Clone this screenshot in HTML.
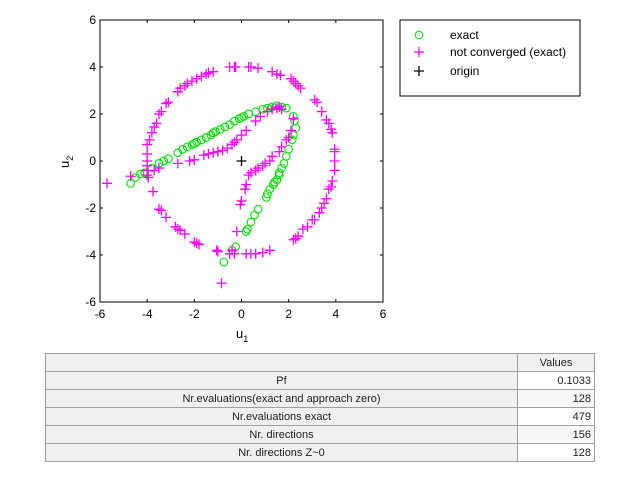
<!DOCTYPE html>
<html><head><meta charset="utf-8"><style>
body{margin:0;width:629px;height:502px;background:#fff;font-family:"Liberation Sans",sans-serif;overflow:hidden;position:relative}
svg{position:absolute;left:0;top:0}
table{position:absolute;left:45px;top:353px;width:550px;border-collapse:collapse;font-size:11px;color:#222}
td{border:1px solid #a0a0a0;height:17px;padding:0 3px;background:#f0f0f0;text-align:center}
td.v{background:#fff;text-align:right;width:70px}
tr.h td{background:#f0f0f0}
</style></head><body>
<svg id="chart" width="629" height="345"></svg>
<table>
<tr class="h"><td></td><td class="v" style="text-align:center;background:#f0f0f0">Values</td></tr>
<tr><td>Pf</td><td class="v">0.1033</td></tr>
<tr><td>Nr.evaluations(exact and approach zero)</td><td class="v" style="background:#f7f7f7">128</td></tr>
<tr><td>Nr.evaluations exact</td><td class="v">479</td></tr>
<tr><td>Nr. directions</td><td class="v" style="background:#f7f7f7">156</td></tr>
<tr><td>Nr. directions Z~0</td><td class="v">128</td></tr>
</table>
<script>
const xTicks=[-6,-4,-2,0,2,4,6];
const yTicks=[-6,-4,-2,0,2,4,6];
const exactX=[-4.7,-4.5,-4.3,-4.1,-3.8,-3.5,-3.3,-3.1,-2.7,-2.5,-2.3,-2.1,-1.9,-1.7,-1.5,-1.3,-1.1,-0.9,-0.7,-0.5,-0.3,-0.1,0.1,0.3,0.6,0.9,1.1,1.3,1.5,1.7,1.9,2.2,2.25,2.3,2.2,2.15,2.0,1.9,1.8,1.7,1.6,1.5,1.35,1.2,1.1,1.05,0.7,0.55,0.4,0.25,0.2,-0.25,-0.4,-0.75,-2.0,-1.2,0.0,1.6,1.4];
const exactY=[-0.95,-0.7,-0.55,-0.5,-0.3,-0.1,0,0.1,0.35,0.5,0.6,0.7,0.8,0.9,1.0,1.1,1.25,1.35,1.45,1.55,1.7,1.8,1.9,2.0,2.1,2.2,2.25,2.3,2.35,2.3,2.25,1.9,1.7,1.4,1.1,0.9,0.5,0.2,-0.1,-0.3,-0.6,-0.8,-1.0,-1.2,-1.4,-1.55,-2.05,-2.3,-2.6,-2.9,-3.0,-3.65,-3.8,-4.3,0.75,1.2,1.85,-0.5,-0.9];
const ncX=[-0.3,-0.25,-0.5,0.3,0.4,0.7,1.3,1.5,1.65,2.1,2.2,2.3,2.4,2.5,3.1,3.2,3.4,3.6,3.7,3.8,3.85,3.95,3.95,3.95,3.95,3.85,3.8,3.7,3.6,3.5,3.4,3.3,3.1,3.0,2.8,2.6,2.4,2.3,2.2,1.2,0.9,0.6,0.4,0.2,-0.5,-0.4,-0.3,-1.0,-1.05,-1.8,-1.9,-2.0,-2.4,-2.6,-2.7,-2.8,-3.2,-3.4,-3.5,-3.75,-3.95,-4.0,-4.0,-4.0,-4.0,-4.0,-4.0,-3.9,-3.8,-3.7,-3.6,-3.5,-3.4,-3.2,-3.1,-2.7,-2.6,-2.4,-2.3,-2.1,-1.9,-1.7,-1.5,-1.4,-1.2,-5.7,-4.7,-0.85,-0.2,-3.7,
-3.5,-2.7,-2.2,-2.0,-1.6,-1.4,-1.2,-1.0,-0.8,-0.6,-0.4,-0.3,-0.2,0,0.2,0.6,0.8,1.1,1.3,1.5,1.6,1.7,
2.2,2.1,2.0,1.9,1.7,1.6,1.3,1.2,1.0,0.9,0.7,0.6,0.4,0.3,0.2,0.15,0.0,-0.05];
const ncY=[4,4.0,4,4,4,3.95,3.8,3.7,3.65,3.5,3.4,3.3,3.2,3.1,2.6,2.5,2.1,1.75,1.6,1.35,1.2,0.5,0.4,0,-0.4,-0.85,-1.1,-1.2,-1.6,-1.8,-2.0,-2.2,-2.5,-2.5,-2.8,-2.9,-3.2,-3.3,-3.35,-3.8,-3.9,-3.95,-3.95,-3.95,-3.95,-3.8,-3.95,-3.85,-3.8,-3.55,-3.5,-3.45,-3.1,-2.95,-2.9,-2.8,-2.4,-2.1,-2.05,-1.3,-0.7,-0.6,-0.4,-0.2,0,0.3,0.7,0.9,1.2,1.45,1.6,2.0,2.1,2.45,2.5,2.95,3.1,3.2,3.3,3.4,3.5,3.6,3.7,3.75,3.8,-0.95,-0.65,-5.2,-3.0,-0.4,
-0.3,-0.1,0,0.05,0.25,0.3,0.35,0.4,0.45,0.55,0.7,0.8,0.9,1.1,1.3,1.7,1.9,2.1,2.2,2.25,2.3,2.2,
1.8,1.3,1.0,0.9,0.6,0.4,0.2,0.0,-0.1,-0.2,-0.3,-0.4,-0.5,-0.6,-1.0,-1.2,-1.7,-1.85];
const originX=[0], originY=[0];

const svg=document.getElementById('chart');const NS='http://www.w3.org/2000/svg';
const L=100,R=383,T=20,B=302;
const sx=v=>L+(v+6)/12*(R-L), sy=v=>B-(v+6)/12*(B-T);
function mk(tag,attrs,parent){const e=document.createElementNS(NS,tag);for(const k in attrs)e.setAttribute(k,attrs[k]);(parent||svg).appendChild(e);return e;}
const frame=mk('rect',{x:L,y:T,width:R-L,height:B-T,fill:'#fff',stroke:'#000','stroke-width':1});


xTicks.forEach(v=>{const x=sx(v);
 mk('line',{x1:x,y1:B,x2:x,y2:B-3,stroke:'#000'});mk('line',{x1:x,y1:T,x2:x,y2:T+3,stroke:'#000'});
 const t=mk('text',{x:x,y:B+16,'font-size':12,'text-anchor':'middle'});t.textContent=v;
 
 });
yTicks.forEach(v=>{const y=sy(v);
 mk('line',{x1:L,y1:y,x2:L+3,y2:y,stroke:'#000'});mk('line',{x1:R,y1:y,x2:R-3,y2:y,stroke:'#000'});
 const t=mk('text',{x:L-4,y:y+4,'font-size':12,'text-anchor':'end'});t.textContent=v;
 
 });
const xl=mk('text',{x:236,y:338,'font-size':13});xl.innerHTML='u<tspan font-size="9" dy="4">1</tspan>';


const yl=mk('text',{x:0,y:0,'font-size':13,transform:'translate(69,168) rotate(-90)'});yl.innerHTML='u<tspan font-size="9" dy="4">2</tspan>';


function plus(x,y,c,n){const g=mk('path',{d:`M${x-5},${y}H${x+5}M${x},${y-5}V${y+5}`,stroke:c,'stroke-width':1.3,fill:'none'});
 
 }
exactX.forEach((v,i)=>{const c=mk('circle',{cx:sx(v),cy:sy(exactY[i]),r:3.8,fill:'none',stroke:'#00e000','stroke-width':1.1});
 
 });
ncX.forEach((v,i)=>plus(sx(v),sy(ncY[i]),'#ff00ff','not-converged-point'));
originX.forEach((v,i)=>plus(sx(v),sy(originY[i]),'#000','origin-point'));
const lg=mk('g',{});


mk('rect',{x:400,y:20,width:180,height:76,fill:'#fff',stroke:'#000'},lg);
mk('circle',{cx:419,cy:35,r:3.8,fill:'none',stroke:'#00e000'},lg);
mk('path',{d:'M414,52H424M419,47V57',stroke:'#ff00ff','stroke-width':1.3},lg);
mk('path',{d:'M414,71H424M419,66V76',stroke:'#000','stroke-width':1.3},lg);
[['exact',39],['not converged (exact)',56],['origin',75]].forEach(([s,y])=>{const t=mk('text',{x:450,y:y,'font-size':12},lg);t.textContent=s;
 
 });
</script>
</body></html>
